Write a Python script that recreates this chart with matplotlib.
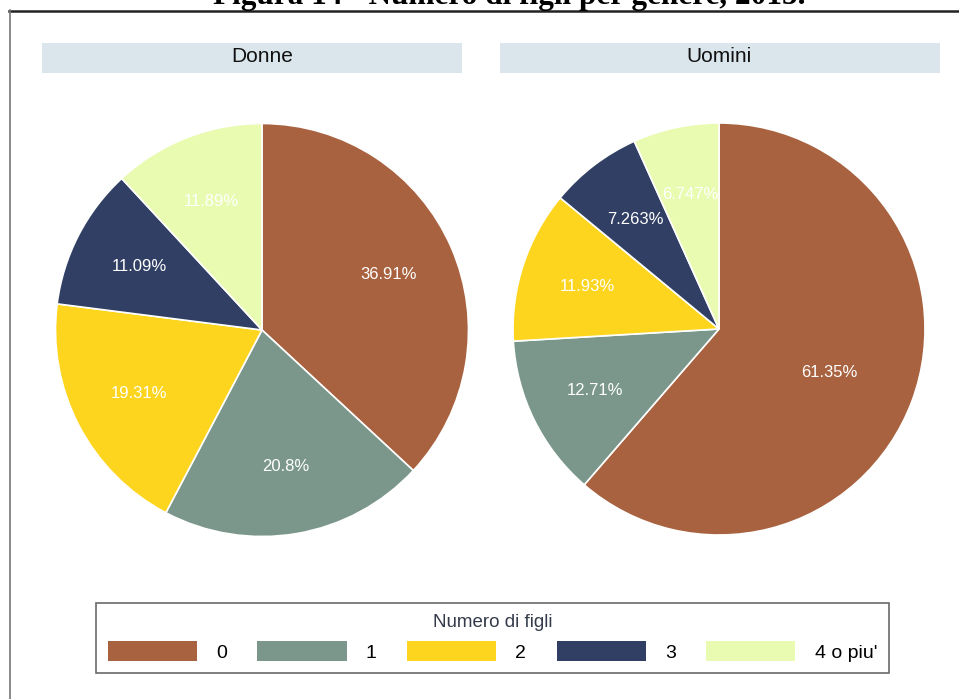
"""Numero di figli per genere (pie charts, Donne / Uomini)."""

import matplotlib
matplotlib.use("Agg")
import matplotlib.pyplot as plt
from matplotlib.lines import Line2D
from matplotlib.patches import Patch, Rectangle

W, H = 959, 699

categories = ["0", "1", "2", "3", "4 o piu'"]
donne = [36.91, 20.8, 19.31, 11.09, 11.89]
uomini = [61.35, 12.71, 11.93, 7.263, 6.747]
donne_labels = ["36.91%", "20.8%", "19.31%", "11.09%", "11.89%"]
uomini_labels = ["61.35%", "12.71%", "11.93%", "7.263%", "6.747%"]
colors = ["#a8623f", "#7b978b", "#fdd51e", "#303f63", "#e9fbb0"]

plt.rcParams["font.family"] = ["Liberation Sans", "DejaVu Sans"]


def fx(px):
    return px / W


def fy(py):
    return 1 - py / H


fig = plt.figure(figsize=(W / 100, H / 100), dpi=100)

# cropped document title and frame
fig.text(fx(509), fy(4), "Figura 14 - Numero di figli per genere, 2015.",
         ha="center", va="baseline", fontsize=22.5, fontweight="bold",
         family="Liberation Serif")
fig.add_artist(Line2D([fx(9), 1], [fy(10.5), fy(10.5)], color="#222222", lw=1.8))
fig.add_artist(Line2D([fx(9.5), fx(9.5)], [fy(10), 0], color="#777777", lw=1.2))


def draw_panel(values, labels, title, cx, cy, r, strip):
    x0, x1 = strip
    fig.add_artist(Rectangle((fx(x0), fy(73)), fx(x1 - x0), 30 / H,
                             facecolor="#dae5ec", edgecolor="none"))
    fig.text(fx(cx), fy(57), title, ha="center", va="center",
             fontsize=15, color="#111111")
    ax = fig.add_axes([fx(cx - r), fy(cy + r), fx(2 * r), 2 * r / H])
    wedges, texts = ax.pie(values, colors=colors, startangle=90, counterclock=False,
                           labels=labels, labeldistance=0.67,
                           wedgeprops=dict(edgecolor="white", linewidth=1.2))
    for t in texts:
        t.set_color("white")
        t.set_fontsize(12)
        t.set_ha("center")
        t.set_va("center")
    ax.set_xlim(-1, 1)
    ax.set_ylim(-1, 1)
    ax.set_aspect("equal")
    ax.axis("off")
    return texts


draw_panel(donne, donne_labels, "Donne", 262, 330, 206.5, (42, 462))
utexts = draw_panel(uomini, uomini_labels, "Uomini", 719, 329, 206, (500, 940))
# the label of the big slice sits closer to the centre
x, y = utexts[0].get_position()
utexts[0].set_position((x * 0.85, y * 0.9))

handles = [Patch(facecolor=c, edgecolor="none") for c in colors]
leg = fig.legend(handles, categories, loc="center",
                 bbox_to_anchor=(fx(492.5), fy(638)), ncol=5,
                 title="Numero di figli", fontsize=14, title_fontsize=13.5,
                 handlelength=4.58, handleheight=1.18, handletextpad=1.0,
                 columnspacing=1.55, borderpad=0.6, frameon=True, fancybox=False)
leg.get_frame().set_edgecolor("#444444")
leg.get_frame().set_linewidth(1.2)
leg.get_title().set_color("#333a4a")

fig.savefig("out.png", dpi=100)
